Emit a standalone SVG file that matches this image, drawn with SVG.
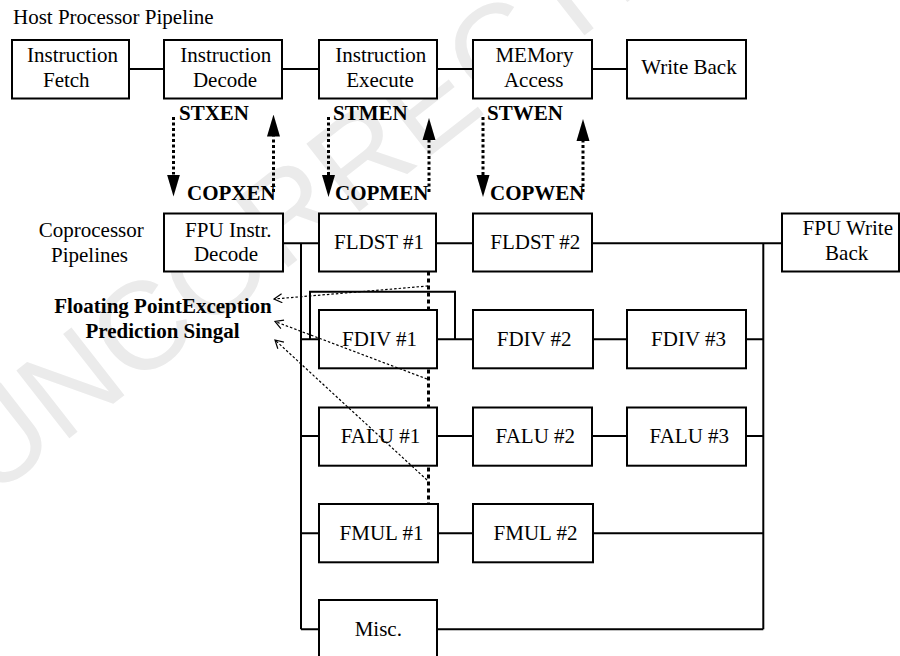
<svg xmlns="http://www.w3.org/2000/svg" width="900" height="656" viewBox="0 0 900 656">
<style>
.box{fill:#fff;stroke:#000;stroke-width:2}
.w{stroke:#000;stroke-width:2;fill:none}
.c{text-anchor:middle}
.b{font-weight:bold}
.sig{stroke:#000;stroke-width:3;stroke-dasharray:3 2.5;fill:none}
.vd{stroke:#000;stroke-width:3;stroke-dasharray:4 3;fill:none}
.exc{stroke:#000;stroke-width:1.2;stroke-dasharray:2.5 2;fill:none}
</style>
<defs>
<marker id="tri" viewBox="0 -7 22 14" markerWidth="22" markerHeight="14" refX="0" refY="0" orient="auto" markerUnits="userSpaceOnUse"><path d="M0,-6.5 L22,0 L0,6.5 z" fill="#000"/></marker>
<marker id="chev" viewBox="-9 -5 10 10" markerWidth="10" markerHeight="10" refX="0" refY="0" orient="auto" markerUnits="userSpaceOnUse"><path d="M-8,-4.5 L0,0 L-8,4.5" fill="none" stroke="#000" stroke-width="1.2"/></marker>
</defs>
<rect width="900" height="656" fill="#fff"/>
<text font-family="Liberation Sans" font-size="125" fill="#ebebeb" transform="translate(-10,500) rotate(-38)">UNCORRECTED</text>

<g font-family="Liberation Serif" font-size="21" fill="#000">
<text id="title" x="13" y="24">Host Processor Pipeline</text>
<text id="coproc-label" class="c"><tspan x="91.3" y="236.7">Coprocessor</tspan><tspan x="89.5" y="261.7">Pipelines</tspan></text>

<g id="connectors">
<path class="w" d="M129,69H164M282,69H319M437,69H473M592,69H627"/>
<path class="w" d="M283,243.3H319M436,243.3H473M592,243.3H782"/>
<path class="w" d="M301,243.3V629.3M763.3,243.3V629.3"/>
<path class="w" d="M301,339.3H319M437,339.3H473M593,339.3H627M746,339.3H763.3"/>
<path class="w" d="M310,339.3V291.7H455V339.3"/>
<path class="w" d="M301,436H319M437,436H473M592,436H627M746,436H763.3"/>
<path class="w" d="M301,533.3H319M438,533.3H473M593,533.3H763.3"/>
<path class="w" d="M301,629.3H319M437,629.3H763.3"/>
<path class="vd" d="M428.5,271.5V504"/>
</g>

<g id="n-fetch"><rect class="box" x="12" y="40" width="117" height="58.5"/><text class="c"><tspan x="72.5" y="62.3">Instruction</tspan><tspan x="66.3" y="87.3">Fetch</tspan></text></g>
<g id="n-decode"><rect class="box" x="164" y="40" width="118" height="58.5"/><text class="c"><tspan x="225.8" y="62.3">Instruction</tspan><tspan x="225" y="87.3">Decode</tspan></text></g>
<g id="n-execute"><rect class="box" x="319" y="40" width="118" height="58.5"/><text class="c"><tspan x="380.8" y="62.3">Instruction</tspan><tspan x="380" y="87.3">Execute</tspan></text></g>
<g id="n-mem"><rect class="box" x="473" y="40" width="119" height="58.5"/><text class="c"><tspan x="534.5" y="62.3">MEMory</tspan><tspan x="533.7" y="87.3">Access</tspan></text></g>
<g id="n-wb"><rect class="box" x="627" y="40" width="119" height="58.5"/><text class="c" x="689" y="74">Write Back</text></g>

<g id="n-fpudec"><rect class="box" x="164" y="213.5" width="119" height="58"/><text class="c"><tspan x="228.3" y="236.7">FPU Instr.</tspan><tspan x="226" y="261">Decode</tspan></text></g>
<g id="n-fldst1"><rect class="box" x="319" y="213.5" width="117" height="58"/><text class="c" x="379" y="249.3">FLDST #1</text></g>
<g id="n-fldst2"><rect class="box" x="473" y="213.5" width="119" height="58"/><text class="c" x="535.3" y="249.3">FLDST #2</text></g>
<g id="n-fpuwb"><rect class="box" x="782" y="213.5" width="117" height="58"/><text class="c"><tspan x="847.8" y="235">FPU Write</tspan><tspan x="846.7" y="260">Back</tspan></text></g>

<g id="n-fdiv1"><rect class="box" x="319" y="310" width="118" height="58.3"/><text class="c" x="379.5" y="345.7">FDIV #1</text></g>
<g id="n-fdiv2"><rect class="box" x="473" y="310" width="120" height="58.3"/><text class="c" x="534.2" y="345.7">FDIV #2</text></g>
<g id="n-fdiv3"><rect class="box" x="627" y="310" width="119" height="58.3"/><text class="c" x="688.5" y="345.7">FDIV #3</text></g>

<g id="n-falu1"><rect class="box" x="319" y="407.5" width="118" height="58.2"/><text class="c" x="380.5" y="442.7">FALU #1</text></g>
<g id="n-falu2"><rect class="box" x="473" y="407.5" width="119" height="58.2"/><text class="c" x="535.3" y="442.7">FALU #2</text></g>
<g id="n-falu3"><rect class="box" x="627" y="407.5" width="119" height="58.2"/><text class="c" x="689.3" y="442.7">FALU #3</text></g>

<g id="n-fmul1"><rect class="box" x="319" y="504" width="119" height="58.3"/><text class="c" x="381.5" y="540">FMUL #1</text></g>
<g id="n-fmul2"><rect class="box" x="473" y="504" width="120" height="58.3"/><text class="c" x="535.5" y="540">FMUL #2</text></g>

<g id="n-misc"><rect class="box" x="319" y="600" width="118" height="60"/><text class="c" x="378.3" y="635.7">Misc.</text></g>

<g id="signals">
<line class="sig" x1="173.5" y1="117" x2="173.5" y2="174.5" marker-end="url(#tri)"/>
<line class="sig" x1="273.5" y1="192" x2="273.5" y2="136.5" marker-end="url(#tri)"/>
<line class="sig" x1="328.5" y1="117" x2="328.5" y2="175" marker-end="url(#tri)"/>
<line class="sig" x1="429" y1="192" x2="429" y2="140" marker-end="url(#tri)"/>
<line class="sig" x1="483" y1="117" x2="483" y2="175" marker-end="url(#tri)"/>
<line class="sig" x1="583" y1="192" x2="583" y2="141" marker-end="url(#tri)"/>
<line class="exc" x1="428" y1="286" x2="274" y2="299" marker-end="url(#chev)"/>
<line class="exc" x1="427" y1="379" x2="275" y2="321.5" marker-end="url(#chev)"/>
<line class="exc" x1="427" y1="480" x2="275" y2="340" marker-end="url(#chev)"/>
</g>

<g id="signal-labels">
<text class="b" x="179" y="119.5">STXEN</text>
<text class="b" x="333" y="119.5">STMEN</text>
<text class="b" x="487" y="119.5">STWEN</text>
<text class="b" x="187" y="199.5">COPXEN</text>
<text class="b" x="335" y="199.5">COPMEN</text>
<text class="b" x="490" y="199.5">COPWEN</text>
<text class="b c"><tspan x="163" y="313.3">Floating PointException</tspan><tspan x="162.5" y="338.3">Prediction Singal</tspan></text>
</g>
</g>
</svg>
